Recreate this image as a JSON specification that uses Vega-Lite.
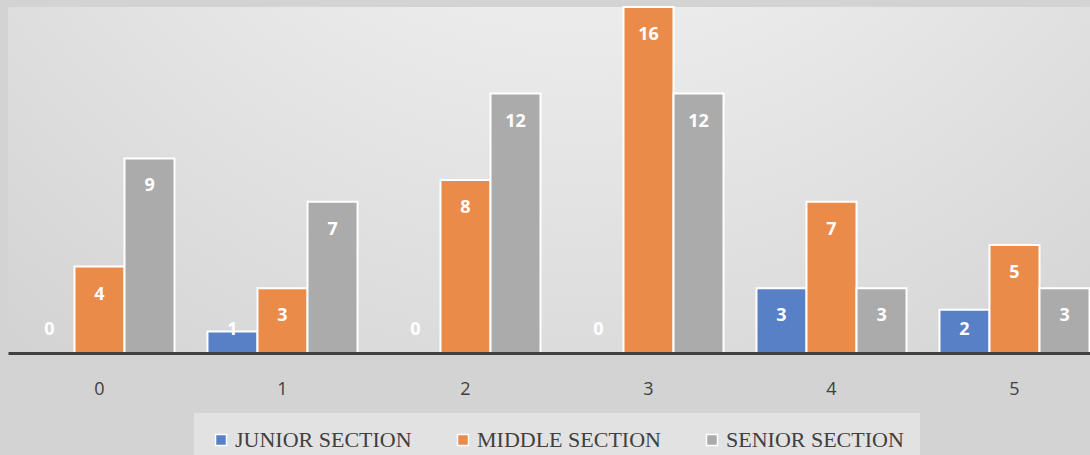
{
  "$schema": "https://vega.github.io/schema/vega-lite/v6.json",
  "autosize": {"type": "none"},
  "width": 1098,
  "height": 346,
  "padding": {"left": 8, "top": 7, "right": 0, "bottom": 102},
  "background": "#d3d3d3",
  "config": {
    "view": {
      "stroke": null,
      "fill": {"gradient": "radial", "x1": 0.52, "y1": 0.0, "r1": 0, "x2": 0.52, "y2": 0.0, "r2": 0.85,
        "stops": [{"offset": 0, "color": "#f5f5f5"}, {"offset": 0.35, "color": "#eeeeee"}, {"offset": 1, "color": "#d2d2d2"}]}
    },
    "legend": {"layout": {"bottom": {"anchor": "middle"}}}
  },
  "data": {
    "values": [
      {"cat": "0", "series": "JUNIOR SECTION", "value": 0},
      {"cat": "0", "series": "MIDDLE SECTION", "value": 4},
      {"cat": "0", "series": "SENIOR SECTION", "value": 9},
      {"cat": "1", "series": "JUNIOR SECTION", "value": 1},
      {"cat": "1", "series": "MIDDLE SECTION", "value": 3},
      {"cat": "1", "series": "SENIOR SECTION", "value": 7},
      {"cat": "2", "series": "JUNIOR SECTION", "value": 0},
      {"cat": "2", "series": "MIDDLE SECTION", "value": 8},
      {"cat": "2", "series": "SENIOR SECTION", "value": 12},
      {"cat": "3", "series": "JUNIOR SECTION", "value": 0},
      {"cat": "3", "series": "MIDDLE SECTION", "value": 16},
      {"cat": "3", "series": "SENIOR SECTION", "value": 12},
      {"cat": "4", "series": "JUNIOR SECTION", "value": 3},
      {"cat": "4", "series": "MIDDLE SECTION", "value": 7},
      {"cat": "4", "series": "SENIOR SECTION", "value": 3},
      {"cat": "5", "series": "JUNIOR SECTION", "value": 2},
      {"cat": "5", "series": "MIDDLE SECTION", "value": 5},
      {"cat": "5", "series": "SENIOR SECTION", "value": 3}
    ]
  },
  "transform": [{"calculate": "max(datum.value, 2.36)", "as": "labelPos"}],
  "encoding": {
    "x": {
      "field": "cat", "type": "nominal",
      "scale": {"paddingInner": 0.18, "paddingOuter": 0.09},
      "axis": {
        "title": null, "labelAngle": 0, "ticks": false, "zindex": 1,
        "domainColor": "#404040", "domainWidth": 3,
        "labelFont": "Open Sans", "labelFontSize": 18, "labelColor": "#404040",
        "labelPadding": 27
      }
    },
    "xOffset": {"field": "series", "type": "nominal", "sort": ["JUNIOR SECTION", "MIDDLE SECTION", "SENIOR SECTION"], "scale": {"paddingInner": 0, "paddingOuter": 0}}
  },
  "layer": [
    {
      "mark": {"type": "bar", "stroke": "white", "strokeWidth": 2},
      "encoding": {
        "y": {"field": "value", "type": "quantitative", "scale": {"domain": [0, 16], "nice": false}, "axis": null},
        "color": {
          "field": "series", "type": "nominal",
          "scale": {"domain": ["JUNIOR SECTION", "MIDDLE SECTION", "SENIOR SECTION"], "range": ["#5880C6", "#EA8B4A", "#ABABAB"]},
          "legend": {
            "title": null, "orient": "bottom", "direction": "horizontal",
            "symbolType": "square", "symbolSize": 120, "symbolStrokeColor": "white", "symbolStrokeWidth": 1.5,
            "labelFont": "Liberation Serif", "labelFontSize": 22, "labelColor": "#404040", "labelLimit": 0,
            "columnPadding": 40, "fillColor": "#e2e2e2", "padding": 16, "offset": 15,
            "labelOffset": 3
          }
        }
      }
    },
    {
      "mark": {"type": "text", "color": "white", "fontWeight": "bold", "font": "Open Sans", "fontSize": 18, "baseline": "middle", "dy": 28},
      "encoding": {
        "y": {"field": "labelPos", "type": "quantitative", "scale": {"domain": [0, 16], "nice": false}},
        "text": {"field": "value", "type": "quantitative"}
      }
    }
  ]
}
